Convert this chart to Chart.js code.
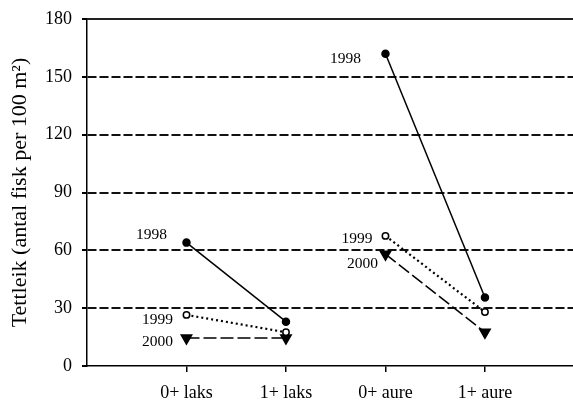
<!DOCTYPE html>
<html>
<head>
<meta charset="utf-8">
<script src="https://cdn.jsdelivr.net/npm/chart.js@4/dist/chart.umd.min.js"></script>
<style>
html,body{margin:0;padding:0;background:#fff;}
#wrap{width:573px;height:401px;}
</style>
</head>
<body>
<div id="wrap"><canvas id="c" width="573" height="401"></canvas></div>
<script>
// ---- data ----
const categories = ['0+ laks', '1+ laks', '0+ aure', '1+ aure'];
const yTicks = [0, 30, 60, 90, 120, 150, 180];
const years = ['1998', '1999', '2000'];
const laks1998 = [64, 23];
const laks1999 = [26.5, 17.5];
const laks2000 = [14.5, 14.5];
const aure1998 = [162, 35.5];
const aure1999 = [67.5, 28];
const aure2000 = [58, 17.5];
const yTitle = 'Tettleik (antal fisk per 100 m²)';

// ---- styles ----
const yearStyle = {
  '1998': {dash: [], width: 1.5, pointStyle: 'circle', radius: 3.5, fill: '#000', rot: 0, lx: -35, ly: -8},
  '1999': {dash: [2, 3], width: 2.2, pointStyle: 'circle', radius: 3.2, fill: '#fff', rot: 0, lx: -29, ly: 5},
  '2000': {dash: [13, 4], width: 1.5, pointStyle: 'triangle', radius: 6, fill: '#000', rot: 180, lx: -29, ly: 4}
};
const aureLabelOffset = {'1998': [-40, 5], '1999': [-28.5, 3], '2000': [-23, 10]};

function mk(vals, startIdx, year, group) {
  const s = yearStyle[year];
  return {
    label: group + ' ' + year,
    year: year, group: group,
    data: vals.map((v, i) => ({x: startIdx + i + 1, y: v})),
    borderColor: '#000',
    borderWidth: s.width,
    borderDash: s.dash,
    pointStyle: s.pointStyle,
    pointRadius: s.radius,
    pointRotation: s.rot,
    pointBackgroundColor: s.fill,
    pointBorderColor: '#000',
    pointBorderWidth: 1.5,
    tension: 0,
    fill: false
  };
}

const datasets = [
  mk(laks1998, 0, '1998', 'laks'),
  mk(laks1999, 0, '1999', 'laks'),
  mk(laks2000, 0, '2000', 'laks'),
  mk(aure1998, 2, '1998', 'aure'),
  mk(aure1999, 2, '1999', 'aure'),
  mk(aure2000, 2, '2000', 'aure')
];

const FONT = 'Liberation Serif';

const labelsPlugin = {
  id: 'yearLabels',
  afterDatasetsDraw(chart) {
    const ctx = chart.ctx;
    ctx.save();
    ctx.font = '15.5px "' + FONT + '"';
    ctx.fillStyle = '#000';
    ctx.textAlign = 'center';
    ctx.textBaseline = 'middle';
    chart.data.datasets.forEach((ds, i) => {
      const meta = chart.getDatasetMeta(i);
      const p = meta.data[0];
      let off = ds.group === 'laks' ? [yearStyle[ds.year].lx, yearStyle[ds.year].ly] : aureLabelOffset[ds.year];
      ctx.fillText(ds.year, p.x + off[0], p.y + off[1]);
    });
    ctx.restore();
  }
};

const frameTop = {
  id: 'frameTop',
  beforeDatasetsDraw(chart) {
    const {ctx, chartArea} = chart;
    ctx.save();
    ctx.strokeStyle = '#222';
    ctx.lineWidth = 2;
    ctx.beginPath();
    ctx.moveTo(chartArea.left, chartArea.top);
    ctx.lineTo(chartArea.right, chartArea.top);
    ctx.stroke();
    ctx.restore();
  }
};

new Chart(document.getElementById('c'), {
  type: 'line',
  data: {datasets},
  plugins: [labelsPlugin, frameTop],
  options: {
    responsive: false,
    devicePixelRatio: 1,
    animation: false,
    layout: {autoPadding: false, padding: {top: 19, right: 0, left: 0, bottom: 0}},
    plugins: {legend: {display: false}, tooltip: {enabled: false}},
    scales: {
      x: {
        type: 'linear',
        min: 0,
        max: 4.885,
        afterBuildTicks: s => { s.ticks = categories.map((c, i) => ({value: i + 1})); },
        afterFit: s => { s.height = 35; s.paddingLeft = 0; s.paddingRight = 0; },
        ticks: {
          callback: v => categories[v - 1] || '',
          font: {family: FONT, size: 18},
          color: '#000',
          maxRotation: 0,
          autoSkip: false,
          padding: 10
        },
        grid: {drawOnChartArea: false, drawTicks: true, tickLength: 6, color: '#000', tickColor: '#000', lineWidth: 1.5},
        border: {color: '#000', width: 1.5}
      },
      y: {
        min: 0,
        max: 180,
        afterBuildTicks: s => { s.ticks = yTicks.map(v => ({value: v})); },
        afterFit: s => { s.width = 87; s.paddingTop = 0; s.paddingBottom = 0; },
        ticks: {
          font: {family: FONT, size: 18},
          color: '#000',
          padding: 10
        },
        title: {display: true, text: yTitle, font: {family: FONT, size: 22}, color: '#000', padding: {top: 7, bottom: 0}},
        grid: {
          color: c => (c.tick && (c.tick.value === 0 || c.tick.value === 180)) ? 'rgba(0,0,0,0)' : '#111',
          lineWidth: 2,
          tickColor: '#000',
          tickLength: 5,
          drawTicks: true
        },
        border: {color: '#000', width: 1.5, dash: [9, 3]}
      }
    }
  }
});
</script>
</body>
</html>
